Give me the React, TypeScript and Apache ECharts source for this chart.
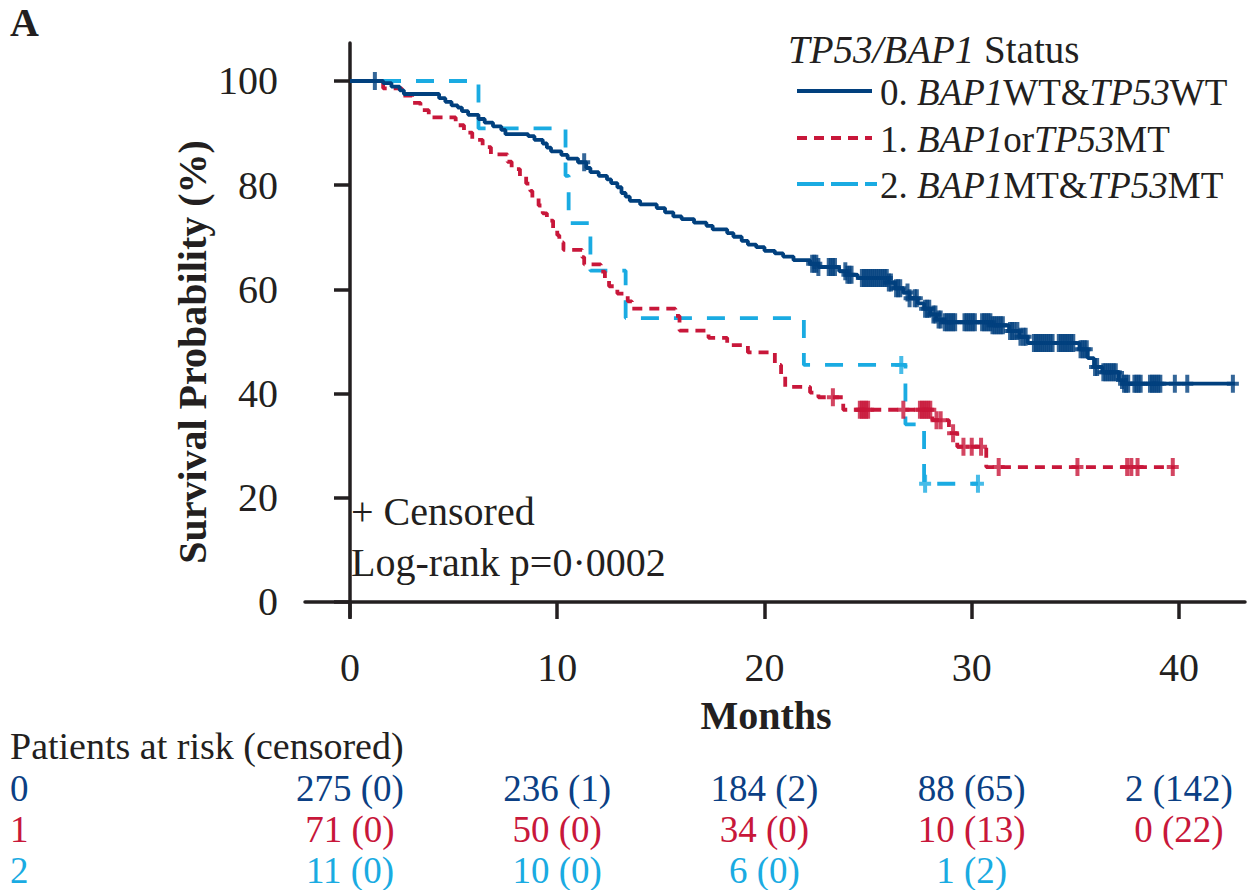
import React, { useEffect, useRef } from 'react';
import * as echarts from 'echarts';

// ---------- data ----------
const monthTicks = [0, 10, 20, 30, 40];
const survivalTicks = [0, 20, 40, 60, 80, 100];

// Kaplan-Meier step points [month, survival %] (value after the step)
const group0Curve: [number, number][] = [
  [0, 100], [1.6, 99.6], [2.0, 98.9], [2.4, 98.2], [2.6, 97.5], [4.3, 96.7], [4.6, 96.0], [4.9, 95.3],
  [5.2, 94.9], [5.4, 94.2], [5.7, 93.5], [6.2, 92.7], [6.5, 92.0], [6.9, 91.3], [7.3, 90.6], [7.5, 89.8],
  [8.6, 89.4], [8.9, 88.7], [9.3, 88.0], [9.5, 87.2], [9.7, 86.5], [10.2, 85.8], [10.5, 85.1], [11.0, 84.4],
  [11.4, 83.3], [11.6, 82.5], [12.0, 81.8], [12.4, 81.1], [12.6, 80.4], [12.9, 79.6], [13.1, 78.5], [13.3, 77.8],
  [13.5, 77.0], [14.0, 76.3], [14.8, 75.6], [15.2, 74.8], [15.6, 74.0], [16.0, 73.5], [16.6, 72.8], [17.2, 72.2],
  [17.5, 71.5], [18.2, 70.8], [18.5, 70.1], [18.9, 69.3], [19.2, 68.6], [19.6, 68.1], [20.0, 67.4], [20.5, 66.9],
  [20.9, 66.3], [21.4, 65.6], [22.2, 64.9], [22.6, 64.3], [23.6, 63.5], [24.0, 62.8], [24.5, 62.2], [26.0, 61.3],
  [26.3, 60.2], [26.7, 59.4], [27.0, 58.3], [27.4, 57.3], [27.7, 56.3], [28.0, 55.2], [28.3, 54.2], [28.6, 53.7],
  [31.0, 53.1], [31.8, 52.0], [32.3, 50.9], [32.7, 49.7], [35.2, 48.5], [35.6, 46.8], [35.9, 45.1], [36.3, 44.1],
  [37.1, 42.6], [37.3, 41.9], [42.7, 41.9],
];
const group1Curve: [number, number][] = [
  [0, 100], [1.6, 98.6], [2.5, 97.2], [3.0, 95.8], [3.4, 94.4], [3.8, 93.0], [5.1, 91.5], [5.5, 90.1],
  [5.9, 88.7], [6.4, 87.3], [6.8, 85.9], [7.6, 84.5], [7.8, 83.1], [8.2, 81.7], [8.5, 80.3], [8.7, 78.9],
  [8.8, 77.5], [9.1, 76.1], [9.3, 74.6], [9.5, 73.2], [9.8, 71.8], [10.0, 70.4], [10.1, 69.0], [10.3, 67.6],
  [11.2, 66.2], [11.3, 64.8], [12.1, 63.4], [12.3, 62.0], [12.5, 60.6], [12.9, 59.2], [13.4, 57.7], [13.6, 56.3],
  [15.7, 54.9], [15.9, 52.1], [17.3, 50.7], [18.2, 49.3], [19.2, 47.9], [20.5, 45.5], [20.8, 43.6], [21.0, 41.3],
  [22.2, 40.2], [22.6, 39.3], [23.8, 36.9], [28.1, 34.9], [28.9, 32.4], [29.3, 29.8], [30.7, 25.9], [39.8, 25.9],
];
const group2Curve: [number, number][] = [
  [0, 100], [6.2, 90.9], [10.4, 81.8], [10.55, 72.7], [11.6, 63.6], [13.3, 54.5], [21.9, 45.5],
  [26.8, 34.1], [27.7, 22.7], [30.3, 22.7],
];

// censoring times (months)
const group0Censored = [
  1.2, 11.3,
  22.3, 22.4, 22.5, 22.6, 23.1, 23.2, 23.3, 23.4, 23.9, 24.0, 24.1, 24.2,
  24.7, 24.8, 24.9, 25.0, 25.1, 25.2, 25.3, 25.4, 25.5, 25.6, 25.7, 25.8, 25.9, 26.0, 26.1,
  26.35, 26.45, 26.55, 26.9, 27.0, 27.25, 27.35, 27.75, 27.85, 27.95,
  28.15, 28.25, 28.4, 28.5, 28.7, 28.8, 28.9, 29.0, 29.1, 29.2,
  29.65, 29.75, 29.85, 29.95, 30.05, 30.15,
  30.5, 30.6, 30.7, 30.8, 30.9, 31.0, 31.1, 31.2, 31.3, 31.4, 31.5,
  31.85, 31.95, 32.05, 32.2, 32.35, 32.5, 32.6,
  33.0, 33.1, 33.2, 33.3, 33.4, 33.5, 33.6, 33.7, 33.8, 33.9,
  34.2, 34.3, 34.4, 34.5, 34.6, 34.7, 34.8, 34.9,
  35.25, 35.35, 35.45, 35.55, 35.95, 36.05,
  36.35, 36.45, 36.55, 36.65, 36.75, 36.85, 36.95,
  37.25, 37.35, 37.45, 37.55, 37.85, 37.95, 38.05, 38.15,
  38.6, 38.7, 38.8, 38.9, 39.0, 39.1, 39.8, 40.4, 42.6,
];
const group1Censored = [
  23.3, 24.6, 24.7, 24.8, 24.9, 25.0, 26.7, 27.5, 27.6, 27.7, 27.8, 27.9, 28.0, 28.3, 28.5,
  29.1, 29.6, 30.0, 30.45, 31.3, 35.1, 37.5, 37.7, 38.0, 39.7,
];
const group2Censored = [26.6, 27.75, 30.3];

// patients at risk (censored)
const riskTimes = [0, 10, 20, 30, 40];
const atRisk0 = [275, 236, 184, 88, 2];
const censoredCount0 = [0, 1, 2, 65, 142];
const atRisk1 = [71, 50, 34, 10, 0];
const censoredCount1 = [0, 0, 0, 13, 22];
const atRisk2 = [11, 10, 6, 1];
const censoredCount2 = [0, 0, 0, 2];

const legendTitle = '{it|TP53/BAP1} Status';
const legendLabels = [
  '0. {it|BAP1}WT&{it|TP53}WT',
  '1. {it|BAP1}or{it|TP53}MT',
  '2. {it|BAP1}MT&{it|TP53}MT',
];

// ---------- styles ----------
const FONT = '"Liberation Serif", "Times New Roman", serif';
const TXT = '#231F20';
const NAVY = '#01407E';
const RED = '#C8173A';
const LIGHT = '#1AABE2';
const ROW_COLORS = ['#0B3F84', '#C8173A', '#1AABE2'];

const X_MIN = -2.171;
const X_MAX = 43.185;
const Y_MIN = -2.879;
const Y_MAX = 107.29;

const PLUS = 'path://M4,0H8V7H12V11H8V18H4V11H0V7H4Z';

function survivalAt(curve: [number, number][], t: number): number {
  let s = curve[0][1];
  for (const [ti, si] of curve) if (ti <= t) s = si;
  return s;
}

function lineSeries(name: string, curve: [number, number][], color: string, dash: any, z: number) {
  return {
    type: 'line',
    name,
    data: curve,
    step: 'end',
    symbol: 'none',
    showSymbol: false,
    z,
    lineStyle: { color, width: 3.8, type: dash, cap: 'butt' },
  };
}

function censorSeries(name: string, times: number[], curve: [number, number][], color: string, z: number) {
  return {
    type: 'scatter',
    name,
    data: times.map((t) => [t, survivalAt(curve, t)]),
    symbol: PLUS,
    symbolSize: [12, 18],
    z,
    itemStyle: { color },
  };
}

function buildOption() {
  return {
    animation: false,
    backgroundColor: '#ffffff',
    grid: { left: 305, right: 2, top: 43, bottom: 273 },
    xAxis: {
      type: 'value',
      min: X_MIN,
      max: X_MAX,
      splitLine: { show: false },
      axisLine: { show: true, lineStyle: { color: TXT, width: 3.5 } },
      axisTick: { show: true, customValues: monthTicks, length: 17, lineStyle: { color: TXT, width: 3.5 } },
      axisLabel: { customValues: monthTicks, margin: 30, fontSize: 40, fontFamily: FONT, color: TXT },
    },
    yAxis: {
      type: 'value',
      min: Y_MIN,
      max: Y_MAX,
      splitLine: { show: false },
      axisLine: { show: true, lineStyle: { color: TXT, width: 3.5 } },
      axisTick: { show: true, customValues: survivalTicks, length: 16, lineStyle: { color: TXT, width: 3.5 } },
      axisLabel: { customValues: survivalTicks, margin: 27, fontSize: 40, fontFamily: FONT, color: TXT },
    },
    series: [
      lineSeries('2', group2Curve, LIGHT, [18, 15], 2),
      lineSeries('1', group1Curve, RED, [10, 7], 3),
      lineSeries('0', group0Curve, NAVY, 'solid', 4),
      censorSeries('c2', group2Censored, group2Curve, LIGHT, 5),
      censorSeries('c1', group1Censored, group1Curve, RED, 6),
      censorSeries('c0', group0Censored, group0Curve, NAVY, 7),
    ],
  };
}

function txt(x: number, y: number, text: string, opts: any = {}) {
  const fontSize = opts.fontSize || 40;
  return {
    type: 'text',
    x,
    y,
    rotation: opts.rotation || 0,
    silent: true,
    style: {
      text,
      fill: opts.fill || TXT,
      fontSize,
      fontFamily: FONT,
      fontWeight: opts.bold ? 'bold' : 'normal',
      align: opts.align || 'left',
      verticalAlign: 'middle',
      lineHeight: opts.lineHeight || Math.round(fontSize * 0.85),
      rich: opts.rich,
    },
  };
}

function buildGraphics(px: (t: number) => number) {
  const g: any[] = [];
  g.push(txt(10, 22, 'A', { bold: true }));
  g.push(txt(192, 352, 'Survival Probability (%)', { bold: true, align: 'center', rotation: Math.PI / 2 }));
  g.push(txt(766, 715, 'Months', { bold: true, align: 'center' }));
  g.push(txt(351, 511, '+ Censored'));
  g.push(txt(351, 562, 'Log-rank p=0·0002'));

  // legend
  const mkRich = (fs: number) => ({
    it: { fontStyle: 'italic', fontSize: fs, fontFamily: FONT, fill: TXT, lineHeight: Math.round(fs * 0.85) },
  });
  g.push(txt(788, 49, legendTitle, { fontSize: 39, rich: mkRich(39) }));
  const legendColors = [NAVY, RED, LIGHT];
  const legendDash: any[] = [null, [10, 7], [27, 7]];
  const legendY = [92, 139, 185];
  legendLabels.forEach((label, i) => {
    g.push({
      type: 'line',
      silent: true,
      shape: { x1: 797, y1: legendY[i] - 1, x2: i === 2 ? 877 : 872, y2: legendY[i] - 1 },
      style: { stroke: legendColors[i], lineWidth: 4, lineDash: legendDash[i] },
    });
    g.push(txt(880, legendY[i], label, { fontSize: 37, rich: mkRich(37) }));
  });

  // risk table
  const TABLE_FS = 37;
  g.push(txt(10, 746, 'Patients at risk (censored)', { fontSize: 38 }));
  const rows = [
    [atRisk0, censoredCount0],
    [atRisk1, censoredCount1],
    [atRisk2, censoredCount2],
  ];
  const rowY = [788, 829.5, 870.5];
  rows.forEach(([n, c], r) => {
    g.push(txt(10, rowY[r], String(r), { fill: ROW_COLORS[r], fontSize: TABLE_FS }));
    n.forEach((v, k) => {
      g.push(
        txt(px(riskTimes[k]), rowY[r], `${v} (${c[k]})`, { fill: ROW_COLORS[r], align: 'center', fontSize: TABLE_FS }),
      );
    });
  });
  return g;
}

export default function App() {
  const ref = useRef<HTMLDivElement>(null);
  useEffect(() => {
    const chart = echarts.init(ref.current!, null, { renderer: 'svg' });
    chart.setOption(buildOption() as any);
    const px = (t: number) => chart.convertToPixel({ xAxisIndex: 0 }, t) as unknown as number;
    chart.setOption({ graphic: buildGraphics(px) } as any);
    return () => chart.dispose();
  }, []);
  return (
    <div
      ref={ref}
      style={{ position: 'absolute', left: 0, top: 0, width: 1247, height: 890, background: '#fff' }}
    />
  );
}
